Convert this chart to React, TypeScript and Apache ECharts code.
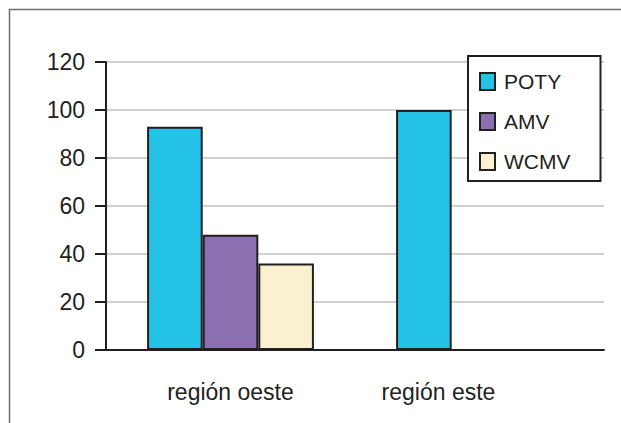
import React, { useEffect, useRef } from "react";
import * as echarts from "echarts";

const categories = ["región oeste", "región este"];
const seriesNames = ["POTY", "AMV", "WCMV"];
const potyValues = [93, 100];
const amvValues = [48, null];
const wcmvValues = [36, null];
const yTicks = { min: 0, max: 120, interval: 20 };

const colors = ["#25c3e8", "#8a6fb1", "#f9f1cf"];
const ink = "#231f20";

export default function App() {
  const ref = useRef<HTMLDivElement>(null);

  useEffect(() => {
    if (!ref.current) return;
    const chart = echarts.init(ref.current, null, { renderer: "svg" });
    const values = [potyValues, amvValues, wcmvValues];
    chart.setOption({
      animation: false,
      backgroundColor: "#ffffff",
      textStyle: { fontFamily: "Liberation Sans, Arial, sans-serif" },
      graphic: [
        {
          type: "rect",
          shape: { x: 9.5, y: 9.5, width: 700, height: 500 },
          style: { fill: "none", stroke: "#6d6d6d", lineWidth: 1.5 },
          z: -1,
        },
      ],
      grid: { left: 106, top: 62, right: 17, bottom: 73 },
      legend: {
        orient: "vertical",
        left: 468,
        top: 56,
        padding: [15, 30, 9, 11],
        icon: "rect",
        itemWidth: 15,
        itemHeight: 17,
        itemGap: 19,
        borderColor: ink,
        borderWidth: 2,
        backgroundColor: "#ffffff",
        textStyle: {
          fontSize: 21,
          color: ink,
          padding: [0, 0, 0, 4],
        },
        data: seriesNames,
      },
      xAxis: {
        type: "category",
        data: [
          categories[0],
          // the second label sits left of its band centre
          { value: categories[1], textStyle: { padding: [0, 82, 0, 0] } },
        ],
        axisLine: { lineStyle: { color: ink, width: 2 } },
        axisTick: { length: 9, lineStyle: { color: ink, width: 2 } },
        axisLabel: { fontSize: 23, color: ink, margin: 30 },
      },
      yAxis: {
        type: "value",
        min: yTicks.min,
        max: yTicks.max,
        interval: yTicks.interval,
        axisLine: { show: true, lineStyle: { color: ink, width: 2 } },
        axisTick: { show: true, length: 11, lineStyle: { color: ink, width: 2 } },
        axisLabel: { fontSize: 23, color: ink, margin: 21 },
        splitLine: { lineStyle: { color: "#d0d0d0", width: 2 } },
      },
      series: seriesNames.map((name, i) => ({
        name,
        type: "bar",
        data: values[i],
        barGap: "0%",
        barCategoryGap: "33%",
        itemStyle: { color: colors[i], borderColor: ink, borderWidth: 2 },
      })),
    });
    return () => chart.dispose();
  }, []);

  return (
    <div
      ref={ref}
      style={{ position: "absolute", left: 0, top: 0, width: 621, height: 423 }}
    />
  );
}
